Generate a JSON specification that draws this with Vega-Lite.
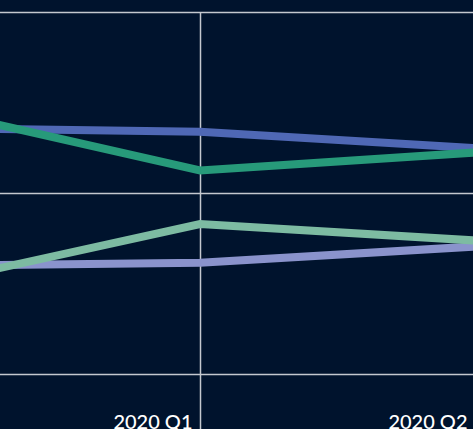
{
  "$schema": "https://vega.github.io/schema/vega-lite/v6.json",
  "width": 473,
  "height": 362,
  "autosize": {"type": "none"},
  "padding": {"left": 0, "top": 12, "right": 0, "bottom": 55},
  "background": "#00132d",
  "config": {"view": {"stroke": null}},
  "data": {
    "values": [
      {"series": "A", "quarter": "2019 Q4", "value": 67.96},
      {"series": "A", "quarter": "2020 Q1", "value": 66.93},
      {"series": "A", "quarter": "2020 Q2", "value": 62.43},
      {"series": "B", "quarter": "2019 Q4", "value": 29.83},
      {"series": "B", "quarter": "2020 Q1", "value": 30.75},
      {"series": "B", "quarter": "2020 Q2", "value": 35.22},
      {"series": "C", "quarter": "2019 Q4", "value": 73.48},
      {"series": "C", "quarter": "2020 Q1", "value": 56.22},
      {"series": "C", "quarter": "2020 Q2", "value": 61.19},
      {"series": "D", "quarter": "2019 Q4", "value": 24.72},
      {"series": "D", "quarter": "2020 Q1", "value": 41.44},
      {"series": "D", "quarter": "2020 Q2", "value": 36.88}
    ]
  },
  "mark": {"type": "line", "strokeWidth": 8, "clip": true},
  "encoding": {
    "x": {
      "field": "quarter",
      "type": "ordinal",
      "scale": {"type": "point", "domain": ["2019 Q4", "2020 Q1", "2020 Q2"], "range": [-75, 475], "padding": 0},
      "axis": {
        "title": null,
        "domain": false,
        "grid": true,
        "gridColor": "#c4c8cf",
        "gridWidth": 1.5,
        "gridOpacity": 1,
        "ticks": true,
        "tickColor": "#c4c8cf",
        "tickWidth": 1.5,
        "tickSize": 60,
        "labelAlign": "right",
        "labelBaseline": "top",
        "labelOffset": -8,
        "labelPadding": -22,
        "labelColor": "#ffffff",
        "labelFont": "Lato",
        "labelFontSize": 20,
        "labelFontWeight": 500,
        "labelAngle": 0
      }
    },
    "y": {
      "field": "value",
      "type": "quantitative",
      "scale": {"domain": [0, 100], "nice": false, "zero": false},
      "axis": {
        "title": null,
        "values": [0, 50, 100],
        "domain": false,
        "ticks": false,
        "labels": false,
        "grid": true,
        "gridColor": "#c4c8cf",
        "gridWidth": 1.5,
        "gridOpacity": 1
      }
    },
    "color": {
      "field": "series",
      "type": "nominal",
      "scale": {"domain": ["A", "B", "C", "D"], "range": ["#4f68b5", "#8a93cc", "#279a7a", "#7dbba2"]},
      "legend": null
    }
  }
}
